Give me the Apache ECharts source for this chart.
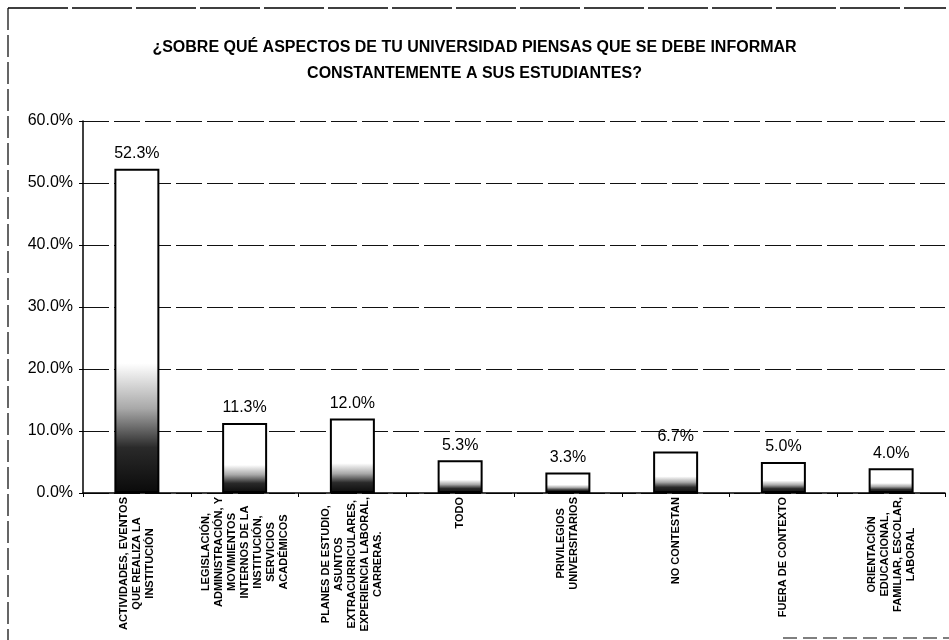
<!DOCTYPE html>
<html>
<head>
<meta charset="utf-8">
<script src="https://cdn.jsdelivr.net/npm/echarts@6/dist/echarts.min.js"></script>
<style>
  html, body { margin: 0; padding: 0; background: #fff; }
  #chart { width: 949px; height: 640px; }
</style>
</head>
<body>
<div id="chart"></div>
<script>
// categorias (eje x)
var categorias = [
    'ACTIVIDADES, EVENTOS\nQUE REALIZA LA\nINSTITUCIÓN',
    'LEGISLACIÓN,\nADMINISTRACIÓN, Y\nMOVIMIENTOS\nINTERNOS DE LA\nINSTITUCIÓN,\nSERVICIOS\nACADÉMICOS',
    'PLANES DE ESTUDIO,\nASUNTOS\nEXTRACURRICULARES,\nEXPERIENCIA LABORAL,\nCARRERAS.',
    'TODO',
    'PRIVILEGIOS\nUNIVERSITARIOS',
    'NO CONTESTAN',
    'FUERA DE CONTEXTO',
    'ORIENTACIÓN\nEDUCACIONAL,\nFAMILIAR, ESCOLAR,\nLABORAL'
];

// porcentajes
var porcentajes = [52.3, 11.3, 12.0, 5.3, 3.3, 6.7, 5.0, 4.0];

var titulo = '¿SOBRE QUÉ ASPECTOS DE TU UNIVERSIDAD PIENSAS QUE SE DEBE INFORMAR\nCONSTANTEMENTE A SUS ESTUDIANTES?';

var chart = echarts.init(document.getElementById('chart'));

var relleno = new echarts.graphic.LinearGradient(0, 0, 0, 1, [
    {offset: 0, color: '#ffffff'},
    {offset: 0.6, color: '#ffffff'},
    {offset: 0.74, color: '#a8a8a8'},
    {offset: 0.86, color: '#2a2a2a'},
    {offset: 1, color: '#0a0a0a'}
]);

var option = {
    backgroundColor: '#fff',
    title: {
        text: titulo,
        left: 'center',
        top: 30,
        textStyle: {
            fontFamily: 'Liberation Sans',
            fontSize: 16,
            fontWeight: 'bold',
            color: '#000',
            lineHeight: 26
        }
    },
    grid: {
        left: 83,
        right: 4,
        top: 121,
        bottom: 147
    },
    xAxis: {
        type: 'category',
        data: categorias,
        axisLine: {lineStyle: {color: '#000', width: 1.5}},
        axisTick: {show: true, length: 4, lineStyle: {color: '#000'}},
        axisLabel: {
            interval: 0,
            rotate: 90,
            margin: 4,
            formatter: function (v) {
                return v.split('\n').map(function (l) {
                    return '{c|' + l + '}';
                }).join('\n');
            },
            rich: {
                c: {
                    align: 'center',
                    fontFamily: 'Liberation Sans',
                    fontSize: 11,
                    fontWeight: 'bold',
                    lineHeight: 13,
                    color: '#000'
                }
            }
        }
    },
    yAxis: {
        type: 'value',
        min: 0,
        max: 60,
        interval: 10,
        axisLine: {show: true, lineStyle: {color: '#000', width: 1.5}},
        axisTick: {show: true, length: 4, lineStyle: {color: '#000'}},
        axisLabel: {
            margin: 10,
            fontFamily: 'Liberation Sans',
            fontSize: 16,
            color: '#000',
            formatter: function (v) {
                return v.toFixed(1) + '%';
            }
        },
        splitLine: {
            show: true,
            lineStyle: {color: '#111', width: 1, type: [26, 5]}
        }
    },
    series: [
        {
            type: 'bar',
            data: porcentajes,
            barWidth: 45,
            itemStyle: {
                color: relleno,
                borderColor: '#000',
                borderWidth: 2
            },
            label: {
                show: true,
                position: 'top',
                distance: 7,
                fontFamily: 'Liberation Sans',
                fontSize: 16,
                color: '#000',
                formatter: function (p) {
                    return p.value.toFixed(1) + '%';
                }
            }
        }
    ],
    graphic: [
        {type: 'line', shape: {x1: 8, y1: 8, x2: 946, y2: 8}, style: {stroke: '#000', lineWidth: 1.5, lineDash: [60, 4]}},
        {type: 'line', shape: {x1: 8, y1: 8, x2: 8, y2: 640}, style: {stroke: '#000', lineWidth: 1.2, lineDash: [22, 5]}},
        {type: 'line', shape: {x1: 783, y1: 638, x2: 949, y2: 638}, style: {stroke: '#000', lineWidth: 1.2, lineDash: [14, 6]}}
    ]
};

chart.setOption(option);
</script>
</body>
</html>
